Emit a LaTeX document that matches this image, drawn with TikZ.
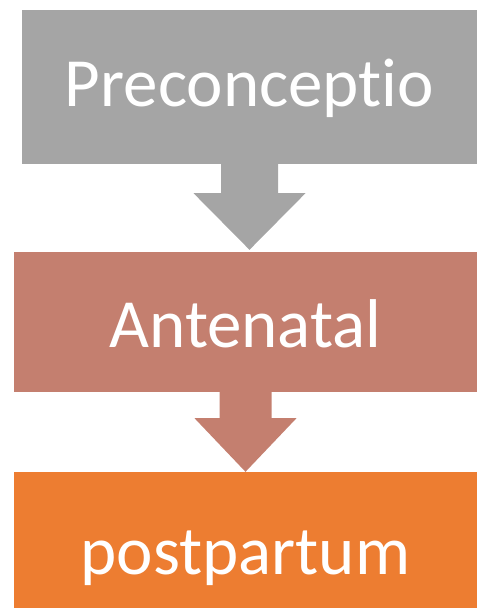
\documentclass[tikz,border=0pt]{standalone}
\usepackage{fontspec}
\setmainfont[Ligatures={NoCommon}]{Carlito}
\usepackage{tikz}
\usetikzlibrary{positioning, calc}
\usepackage{xcolor}

\definecolor{stagegrey}{HTML}{A5A5A5}
\definecolor{stagerose}{HTML}{C47F6F}
\definecolor{stageorange}{HTML}{ED7D31}

\begin{document}
\begin{tikzpicture}[
    x=1pt, y=1pt,
    stage/.style={rectangle, inner sep=0pt, text=white, align=center, text depth=0pt,
        font=\fontsize{69}{83}\selectfont},
]
    \useasboundingbox (0,0) rectangle (483,608);

    % Stages
    \node[stage, fill=stagegrey, minimum width=455pt, minimum height=154pt, text height=40pt]
        (pre) at (249.5,521) {Preconceptio};
    \node[stage, fill=stagerose, minimum width=463pt, minimum height=140pt, text height=52pt]
        (ante) at (245.5,286) {Antenatal};
    \node[stage, fill=stageorange, minimum width=463pt, minimum height=136pt, text height=70pt]
        (post) at (245.5,68) {postpartum};

    % Block arrows
    \fill[stagegrey] ($(pre.south)+(-28.5,0)$) -- ++(0,-29) -- ++(-27.5,0)
        -- ($(pre.south |- ante.north)+(0,2)$)
        -- ($(pre.south)+(56,-29)$) -- ++(-27.5,0) -- ++(0,29) -- cycle;
    \fill[stagerose] ($(ante.south)+(-26,0)$) -- ++(0,-26) -- ++(-25,0)
        -- (ante.south |- post.north)
        -- ($(ante.south)+(51,-26)$) -- ++(-25,0) -- ++(0,26) -- cycle;

\end{tikzpicture}
\end{document}
